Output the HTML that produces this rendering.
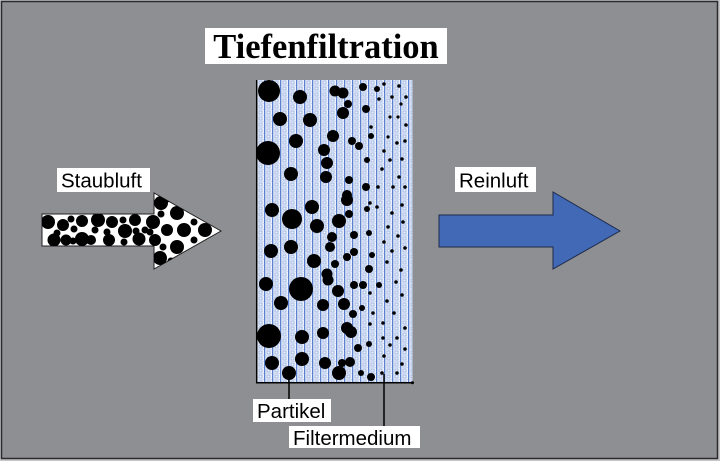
<!DOCTYPE html>
<html><head><meta charset="utf-8"><style>
html,body{margin:0;padding:0;background:#c9c9cb;}
svg{display:block;}
</style></head><body>
<svg width="720" height="461" viewBox="0 0 720 461" xmlns="http://www.w3.org/2000/svg">
<defs>
<pattern id="fm" x="256" y="80" width="8" height="6" patternUnits="userSpaceOnUse">
<rect width="8" height="6" fill="#eef2fb"/>
<rect x="0" y="0" width="1.3" height="6" fill="#5a80d0"/>
<rect x="3" y="1" width="3" height="3" fill="none" stroke="#9cb3e3" stroke-width="0.9"/>
<rect x="2" y="5.2" width="6" height="0.8" fill="#c6d4f0"/>
</pattern>
</defs>
<rect x="0" y="0" width="720" height="461" fill="#c6c6c8"/>
<rect x="1.5" y="1.5" width="716" height="457" fill="#8e8f93" stroke="#2a2a2c" stroke-width="1.5"/>

<!-- Title -->
<rect x="205" y="28" width="242" height="36" fill="#ffffff"/>
<text x="326" y="58" text-anchor="middle" font-family="Liberation Serif, serif" font-weight="bold" font-size="34.5" fill="#000">Tiefenfiltration</text>

<!-- Filter medium -->
<rect x="256.5" y="80" width="156" height="303" fill="url(#fm)"/>
<line x1="256.7" y1="80" x2="256.7" y2="383" stroke="#000" stroke-width="1.5"/>
<line x1="256" y1="382.8" x2="413" y2="382.8" stroke="#000" stroke-width="1.5"/>
<circle cx="412.5" cy="382.8" r="1.5" fill="#000"/>

<g fill="#000">
<circle cx="269" cy="91" r="11"/><circle cx="300" cy="97" r="7"/>
<circle cx="335" cy="91" r="5.5"/><circle cx="343" cy="93" r="5.5"/>
<circle cx="363" cy="87" r="4"/><circle cx="377" cy="89" r="3"/>
<circle cx="384" cy="84" r="1.8"/><circle cx="399" cy="86" r="1.8"/>
<circle cx="379" cy="99" r="1.8"/><circle cx="392" cy="97" r="1.8"/><circle cx="406" cy="97" r="1.8"/>
<circle cx="348" cy="104" r="4"/><circle cx="343" cy="113" r="6"/><circle cx="366" cy="109" r="4"/>
<circle cx="401" cy="104" r="1.6"/><circle cx="280" cy="119" r="7"/><circle cx="310" cy="120" r="7"/>
<circle cx="390" cy="117" r="1.6"/><circle cx="398" cy="117" r="1.6"/><circle cx="406" cy="125" r="1.8"/>
<circle cx="371" cy="127" r="1.8"/><circle cx="333" cy="136" r="6"/><circle cx="296" cy="141" r="7"/>
<circle cx="371" cy="136" r="3"/><circle cx="388" cy="137" r="1.6"/><circle cx="352" cy="141" r="4"/>
<circle cx="359" cy="146" r="4"/><circle cx="397" cy="143" r="1.8"/><circle cx="405" cy="141" r="1.8"/>
<circle cx="268" cy="153" r="12"/><circle cx="324" cy="150" r="6"/><circle cx="384" cy="151" r="1.8"/>
<circle cx="327" cy="163" r="6"/><circle cx="367" cy="160" r="3"/><circle cx="390" cy="160" r="1.8"/>
<circle cx="402" cy="159" r="1.8"/><circle cx="291" cy="174" r="7"/><circle cx="382" cy="169" r="1.8"/>
<circle cx="326" cy="177" r="6"/><circle cx="349" cy="180" r="4"/><circle cx="399" cy="177" r="1.8"/>
<circle cx="366" cy="187" r="4"/><circle cx="378" cy="187" r="1.8"/><circle cx="393" cy="187" r="1.8"/>
<circle cx="405" cy="187" r="1.8"/><circle cx="347" cy="200" r="6"/><circle cx="347" cy="195" r="5"/>
<circle cx="312" cy="207" r="7"/><circle cx="370" cy="203" r="1.8"/><circle cx="272" cy="210" r="7"/>
<circle cx="292" cy="219" r="10"/><circle cx="367" cy="209" r="3"/><circle cx="377" cy="207" r="1.8"/>
<circle cx="402" cy="205" r="1.8"/><circle cx="349" cy="214" r="4"/><circle cx="339" cy="221" r="7"/>
<circle cx="317" cy="226" r="7"/><circle cx="392" cy="213" r="1.8"/><circle cx="388" cy="227" r="1.8"/>
<circle cx="403" cy="222" r="1.8"/>
<circle cx="332" cy="237" r="5"/><circle cx="354" cy="235" r="4"/><circle cx="369" cy="233" r="3"/>
<circle cx="398" cy="236" r="1.8"/><circle cx="384" cy="242" r="1.8"/><circle cx="271" cy="251" r="7"/>
<circle cx="291" cy="247" r="7"/><circle cx="330" cy="247" r="5"/><circle cx="405" cy="248" r="1.8"/>
<circle cx="392" cy="251" r="1.8"/><circle cx="347" cy="257" r="4"/><circle cx="354" cy="252" r="4"/>
<circle cx="372" cy="255" r="3"/><circle cx="314" cy="261" r="7"/><circle cx="335" cy="264" r="4"/>
<circle cx="387" cy="262" r="1.8"/><circle cx="369" cy="269" r="4"/><circle cx="401" cy="270" r="1.8"/>
<circle cx="327" cy="274" r="5.5"/><circle cx="328" cy="280" r="5.5"/><circle cx="266" cy="284" r="7"/>
<circle cx="301" cy="289" r="12"/><circle cx="354" cy="285" r="4"/><circle cx="363" cy="285" r="4"/>
<circle cx="379" cy="285" r="3"/><circle cx="396" cy="282" r="1.8"/><circle cx="338" cy="291" r="6"/>
<circle cx="370" cy="293" r="1.8"/><circle cx="402" cy="295" r="1.8"/><circle cx="387" cy="301" r="1.8"/>
<circle cx="281" cy="303" r="7"/><circle cx="323" cy="305" r="6"/><circle cx="344" cy="304" r="6"/>
<circle cx="362" cy="308" r="3"/><circle cx="353" cy="314" r="4"/><circle cx="373" cy="313" r="1.8"/>
<circle cx="394" cy="313" r="1.8"/><circle cx="370" cy="324" r="1.8"/><circle cx="383" cy="323" r="1.8"/>
<circle cx="405" cy="328" r="1.8"/><circle cx="269" cy="336" r="12"/><circle cx="302" cy="337" r="7"/>
<circle cx="323" cy="333" r="6"/><circle cx="347" cy="328" r="6"/><circle cx="351" cy="332" r="6"/>
<circle cx="397" cy="338" r="1.8"/><circle cx="383" cy="338" r="1.8"/><circle cx="358" cy="348" r="4"/>
<circle cx="369" cy="344" r="3"/><circle cx="390" cy="345" r="1.8"/><circle cx="405" cy="349" r="1.8"/>
<circle cx="272" cy="363" r="7"/><circle cx="302" cy="359" r="7"/><circle cx="325" cy="363" r="6"/>
<circle cx="350" cy="362" r="5"/><circle cx="342" cy="363" r="4"/><circle cx="384" cy="356" r="1.8"/>
<circle cx="402" cy="364" r="1.8"/><circle cx="289" cy="373" r="7"/><circle cx="339" cy="373" r="7"/>
<circle cx="361" cy="373" r="3"/><circle cx="371" cy="377" r="4"/><circle cx="382" cy="373" r="1.8"/>
<circle cx="397" cy="373" r="1.8"/>
</g>

<!-- Leaders -->
<line x1="289" y1="373" x2="289" y2="400" stroke="#000" stroke-width="1.5"/>
<line x1="384" y1="374" x2="384" y2="427" stroke="#000" stroke-width="1.5"/>

<rect x="253" y="399" width="78" height="23" fill="#fff"/>
<text x="257" y="418" font-family="Liberation Sans, sans-serif" font-size="20.5" fill="#000">Partikel</text>
<rect x="289" y="426" width="131" height="22" fill="#fff"/>
<text x="293" y="445" font-family="Liberation Sans, sans-serif" font-size="20.5" fill="#000">Filtermedium</text>

<!-- Staubluft -->
<rect x="57" y="168" width="93" height="24" fill="#fff"/>
<text x="61" y="187.5" font-family="Liberation Sans, sans-serif" font-size="20.5" fill="#000">Staubluft</text>

<!-- Left arrow -->
<clipPath id="la"><polygon points="42,214 154,214 154,193 221,231 154,269 154,246 42,246"/></clipPath>
<polygon points="42,214 154,214 154,193 221,231 154,269 154,246 42,246" fill="#fff" stroke="#222" stroke-width="1"/>
<g fill="#000" clip-path="url(#la)">
<circle cx="48" cy="222" r="7"/><circle cx="54" cy="240" r="6.5"/><circle cx="63" cy="225" r="6"/>
<circle cx="57" cy="233" r="3.5"/><circle cx="66" cy="240" r="5.5"/><circle cx="71" cy="219" r="3.5"/>
<circle cx="74" cy="229" r="3.5"/><circle cx="82" cy="221" r="6"/><circle cx="82" cy="239" r="7"/>
<circle cx="73" cy="241" r="3.5"/><circle cx="98" cy="220" r="7"/><circle cx="95" cy="230" r="3.5"/>
<circle cx="91" cy="240" r="5"/><circle cx="109" cy="240" r="6"/><circle cx="107" cy="232" r="3.5"/>
<circle cx="112" cy="222" r="6"/><circle cx="125" cy="231" r="7"/><circle cx="123" cy="220" r="3.5"/>
<circle cx="124" cy="242" r="3.5"/><circle cx="135" cy="220" r="6"/><circle cx="139" cy="239" r="6.5"/>
<circle cx="136" cy="231" r="3.5"/><circle cx="145" cy="230" r="3.5"/><circle cx="153" cy="222" r="7"/>
<circle cx="155" cy="240" r="6"/><circle cx="150" cy="232" r="3.5"/><circle cx="161" cy="203" r="7"/>
<circle cx="161" cy="214" r="3.5"/><circle cx="177" cy="213" r="7"/><circle cx="167" cy="230" r="6"/>
<circle cx="163" cy="247" r="3.5"/><circle cx="160" cy="258" r="7"/><circle cx="184" cy="230" r="7"/>
<circle cx="177" cy="247" r="7"/><circle cx="194" cy="222" r="3.5"/><circle cx="194" cy="240" r="3.5"/>
<circle cx="205" cy="230" r="7"/><circle cx="190" cy="258" r="3.5"/><circle cx="171" cy="261" r="3.5"/>
<circle cx="167" cy="199" r="3.5"/>
</g>

<!-- Reinluft -->
<rect x="455" y="167" width="81" height="25" fill="#fff"/>
<text x="459" y="187.5" font-family="Liberation Sans, sans-serif" font-size="20.5" fill="#000">Reinluft</text>

<!-- Right arrow -->
<polygon points="439,215 553,215 553,192 620,231 553,269 553,247 439,247" fill="#4169b6" stroke="#1d2a4a" stroke-width="1"/>
</svg>
</body></html>
